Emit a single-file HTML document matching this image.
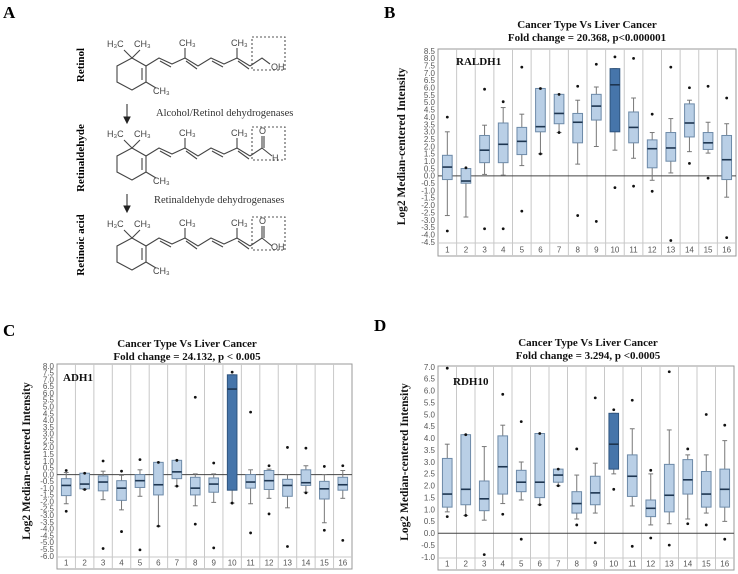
<!DOCTYPE html>
<html><head><meta charset="utf-8"><style>
body{margin:0;background:#fff;}
svg{display:block;}
.lbl{font-family:"Liberation Serif",serif;font-weight:bold;}
.chem{font-family:"Liberation Sans",sans-serif;font-size:9px;fill:#444;}
</style></head><body>
<svg id="fig" width="738" height="574" viewBox="0 0 738 574" xmlns="http://www.w3.org/2000/svg">
<g>
<text class="lbl" x="3" y="18" font-size="17">A</text>
<g id="mols" stroke="#444" stroke-width="1.1" fill="none"></g>
<text class="lbl" transform="translate(84,65) rotate(-90)" text-anchor="middle" font-size="11">Retinol</text>
<text class="lbl" transform="translate(84,158) rotate(-90)" text-anchor="middle" font-size="11">Retinaldehyde</text>
<text class="lbl" transform="translate(84,245) rotate(-90)" text-anchor="middle" font-size="11">Retinoic acid</text>
<g stroke="#222" stroke-width="1">
<line x1="127" y1="104" x2="127" y2="121"/><path d="M124,117 L127,123 L130,117 Z" fill="#222"/>
<line x1="127" y1="194" x2="127" y2="210"/><path d="M124,206 L127,212 L130,206 Z" fill="#222"/>
</g>
<text x="156" y="116" font-family="Liberation Serif,serif" font-size="10.5" fill="#333">Alcohol/Retinol dehydrogenases</text>
<text x="154" y="203" font-family="Liberation Serif,serif" font-size="10.5" fill="#333">Retinaldehyde dehydrogenases</text>
</g>
<g id="chartB"></g>
<g id="chartC"></g>
<g id="chartD"></g>
</svg>
<script>
const categories=["1","2","3","4","5","6","7","8","9","10","11","12","13","14","15","16"];
// RALDH1
const raldh1Lo=[-2.7,-2.8,0.1,0.05,0.7,1.5,2.95,0.8,2.0,1.75,1.2,-0.3,0.2,1.65,1.55,-1.45];
const raldh1Q1=[-0.25,-0.5,0.9,0.9,1.45,3.0,3.55,2.25,3.8,3.0,2.25,0.55,1.0,2.65,1.8,-0.25];
const raldh1Med=[0.6,-0.35,1.75,2.15,2.35,3.35,4.25,3.65,4.75,6.2,3.3,1.85,1.9,3.6,2.25,1.1];
const raldh1Q3=[1.4,0.5,2.75,3.6,3.3,5.95,5.55,4.25,5.55,7.3,4.35,2.45,2.95,4.9,2.95,2.75];
const raldh1Hi=[3.0,0.5,3.45,4.65,4.2,5.95,5.55,5.15,6.05,7.3,5.3,2.95,3.9,5.15,3.65,3.55];
const raldh1Out=[[4.0,-3.75],[0.55],[5.9,-3.6],[5.05,-3.6],[7.4,-2.4],[5.95,1.5],[5.55,2.95],[6.1,-2.7],[7.6,-3.1],[8.1,-0.8],[8.0,-0.7],[4.2,-1.05],[7.4,-4.4],[6.0,0.85],[6.1,-0.15],[5.3,-4.2]];
// ADH1
const adh1Lo=[-2.15,-1.1,-1.85,-2.6,-1.6,-3.8,-0.85,-2.3,-2.05,-2.1,-2.15,-1.75,-2.45,-1.3,-3.55,-1.75];
const adh1Q1=[-1.55,-1.05,-1.2,-1.9,-0.95,-1.5,-0.3,-1.5,-1.3,-1.15,-1.0,-1.1,-1.6,-0.8,-1.8,-1.15];
const adh1Med=[-0.8,-0.7,-0.55,-1.0,-0.45,-0.75,0.2,-1.0,-0.7,6.3,-0.55,-0.45,-0.8,-0.6,-1.05,-0.75];
const adh1Q3=[-0.3,0.1,-0.1,-0.45,0.0,0.9,1.05,-0.2,-0.25,7.35,0.0,0.3,-0.35,0.35,-0.5,-0.2];
const adh1Hi=[0.15,0.1,0.25,-0.05,0.35,0.9,1.05,0.05,0.05,7.35,0.35,0.4,0.0,0.65,0.0,0.3];
const adh1Out=[[0.3,-2.7],[0.1,-1.1],[1.0,-5.45],[0.25,-4.2],[1.1,-5.55],[0.9,-3.8],[1.05,-0.85],[5.7,-3.65],[0.85,-5.4],[7.55,-2.1],[4.6,-4.3],[0.65,-2.9],[2.0,-5.3],[1.95,-1.35],[0.6,-4.1],[0.65,-4.85]];
// RDH10
const rdh10Lo=[0.9,0.75,0.55,1.25,1.4,1.2,2.0,0.6,0.85,2.5,1.15,0.35,0.4,0.6,0.85,0.5];
const rdh10Q1=[1.1,1.2,0.95,1.65,1.75,1.5,2.15,0.85,1.2,2.7,1.55,0.7,0.9,1.65,1.1,1.1];
const rdh10Med=[1.65,1.85,1.45,2.8,2.15,2.15,2.45,1.25,1.7,3.75,2.4,1.05,1.6,2.25,1.65,1.85];
const rdh10Q3=[3.15,4.15,2.2,4.1,2.65,4.2,2.7,1.75,2.4,5.05,3.3,1.4,2.9,3.1,2.6,2.7];
const rdh10Hi=[3.75,4.15,3.65,4.55,3.0,4.2,2.7,2.45,2.95,5.05,4.4,2.5,4.35,3.3,3.3,3.9];
const rdh10Out=[[6.95,0.7],[4.15,0.75],[-0.9],[5.85,0.8],[4.7,-0.25],[4.2,1.2],[2.7,2.0],[3.55,0.35],[5.7,-0.4],[5.2,1.85],[5.6,-0.55],[2.65,-0.2],[6.8,-0.5],[3.55,0.4],[5.0,0.35],[4.55,-0.25]];

const NS="http://www.w3.org/2000/svg";
function mk(parent,tag,attrs){const e=document.createElementNS(NS,tag);for(const k in attrs)e.setAttribute(k,attrs[k]);parent.appendChild(e);return e;}

function drawChart(g,o){
  const yScale=v=>o.yTop+(o.max-v)/(o.max-o.min)*(o.yBot-o.yTop);
  const colW=(o.right-o.left)/categories.length;
  const xC=i=>o.left+colW*(i+0.5);
  const fr=mk(g,'rect',{x:o.left,y:o.frameTop,width:o.right-o.left,height:o.bottom-o.frameTop,fill:'#fff',stroke:'#999','stroke-width':1});
  
  
  for(let i=1;i<categories.length;i++){
    const l=mk(g,'line',{x1:o.left+colW*i,x2:o.left+colW*i,y1:o.frameTop,y2:o.bottom,stroke:'#c8c8c8','stroke-width':1});
    
    
  }
  const bl=mk(g,'line',{x1:o.left,x2:o.right,y1:o.yBot+1,y2:o.yBot+1,stroke:'#c8c8c8'});
  
  
  // y ticks
  for(let v=o.min;v<=o.max+1e-9;v+=0.5){
    const t=mk(g,'text',{x:o.left-3,y:yScale(v)+2.8,'text-anchor':'end','font-family':'Liberation Sans,sans-serif','font-size':'8',fill:'#555'});
    t.textContent=(Math.abs(v)<1e-9?0:v).toFixed(1);
    
    
  }
  const z=mk(g,'line',{x1:o.left,x2:o.right,y1:yScale(0),y2:yScale(0),stroke:'#444','stroke-width':1});
  
  
  const bw=colW*0.52;
  categories.forEach((c,i)=>{
    const x=xC(i);
    const grp=mk(g,'g',{});
    
    
    const sc='#6d8aa8';
    mk(grp,'line',{x1:x,x2:x,y1:yScale(o.hi[i]),y2:yScale(o.q3[i]),stroke:'#777'});
    mk(grp,'line',{x1:x,x2:x,y1:yScale(o.q1[i]),y2:yScale(o.lo[i]),stroke:'#777'});
    mk(grp,'line',{x1:x-bw/4,x2:x+bw/4,y1:yScale(o.hi[i]),y2:yScale(o.hi[i]),stroke:'#777'});
    mk(grp,'line',{x1:x-bw/4,x2:x+bw/4,y1:yScale(o.lo[i]),y2:yScale(o.lo[i]),stroke:'#777'});
    const dark=(i===9);
    mk(grp,'rect',{x:x-bw/2,y:yScale(o.q3[i]),width:bw,height:yScale(o.q1[i])-yScale(o.q3[i]),fill:dark?'#4675aa':'#b9cfe6',stroke:dark?'#2f557f':sc,'stroke-width':1});
    mk(grp,'line',{x1:x-bw/2,x2:x+bw/2,y1:yScale(o.med[i]),y2:yScale(o.med[i]),stroke:'#1d3550','stroke-width':1.6});
    o.out[i].forEach(v=>{
      const d=mk(grp,'circle',{cx:x,cy:yScale(v),r:1.4,fill:'#111'});
      
      
    });
    const t=mk(g,'text',{x:x,y:o.bottom-3.5,'text-anchor':'middle','font-family':'Liberation Sans,sans-serif','font-size':'8',fill:'#555'});
    t.textContent=c;
    
    
  });
  const gl=mk(g,'text',{x:o.geneX,y:o.geneY,'font-family':'Liberation Serif,serif','font-weight':'bold','font-size':'11',fill:'#111'});
  gl.textContent=o.gene;
  
  
  const t1=mk(g,'text',{x:o.titleX,y:o.titleY,'text-anchor':'middle','font-family':'Liberation Serif,serif','font-weight':'bold','font-size':'11',fill:'#111'});
  t1.textContent='Cancer Type Vs Liver Cancer';
  
  
  const t2=mk(g,'text',{x:o.titleX,y:o.titleY+13,'text-anchor':'middle','font-family':'Liberation Serif,serif','font-weight':'bold','font-size':'11',fill:'#111'});
  t2.textContent=o.sub;
  
  
  const yl=mk(g,'text',{transform:'translate('+o.ylX+','+((o.yTop+o.yBot)/2)+') rotate(-90)','text-anchor':'middle','font-family':'Liberation Serif,serif','font-weight':'bold','font-size':'11.5',fill:'#111'});
  yl.textContent='Log2 Median-centered Intensity';
  
  
  const pl=mk(g,'text',{x:o.letX,y:o.letY,'font-family':'Liberation Serif,serif','font-weight':'bold','font-size':'17',fill:'#000'});
  pl.textContent=o.letter;
  
  
}
drawChart(document.getElementById('chartB'),{left:438,right:736,frameTop:49,yTop:51,yBot:242,bottom:256,min:-4.5,max:8.5,lo:raldh1Lo,q1:raldh1Q1,med:raldh1Med,q3:raldh1Q3,hi:raldh1Hi,out:raldh1Out,gene:'RALDH1',geneX:456,geneY:65,titleX:587,titleY:28,sub:'Fold change = 20.368, p<0.000001',ylX:405,letter:'B',letX:384,letY:18});
drawChart(document.getElementById('chartC'),{left:57,right:352,frameTop:364,yTop:366,yBot:556,bottom:569,min:-6,max:8,lo:adh1Lo,q1:adh1Q1,med:adh1Med,q3:adh1Q3,hi:adh1Hi,out:adh1Out,gene:'ADH1',geneX:63,geneY:381,titleX:187,titleY:347,sub:'Fold change = 24.132, p < 0.005',ylX:30,letter:'C',letX:3,letY:336});
drawChart(document.getElementById('chartD'),{left:438,right:734,frameTop:366,yTop:367,yBot:557,bottom:570,min:-1,max:7,lo:rdh10Lo,q1:rdh10Q1,med:rdh10Med,q3:rdh10Q3,hi:rdh10Hi,out:rdh10Out,gene:'RDH10',geneX:453,geneY:385,titleX:588,titleY:346,sub:'Fold change = 3.294, p <0.0005',ylX:408,letter:'D',letX:374,letY:331});

// Panel A molecules
const mols=document.getElementById('mols');
const svg=document.getElementById('fig');
function molecule(dy,kind){
  const p=(x,y)=>x+','+(y+dy);
  // ring
  mk(mols,'polyline',{points:[p(132,58),p(146,66),p(146,82),p(132,90),p(117,82),p(117,66),p(132,58)].join(' ')});
  mk(mols,'line',{x1:142,y1:68+dy,x2:142,y2:80+dy});
  mk(mols,'line',{x1:146,y1:82+dy,x2:156,y2:88+dy});
  mk(mols,'line',{x1:132,y1:58+dy,x2:124,y2:50+dy});
  mk(mols,'line',{x1:132,y1:58+dy,x2:140,y2:50+dy});
  // chain
  const xs=[146,159,172,185,198,211,224,237,250];
  const ys=[66,58,64,58,66,58,64,58,66];
  mk(mols,'polyline',{points:xs.map((x,i)=>p(x,ys[i])).join(' ')});
  mk(mols,'line',{x1:160,y1:61+dy,x2:171,y2:67+dy});
  mk(mols,'line',{x1:186,y1:61+dy,x2:197,y2:69+dy});
  mk(mols,'line',{x1:212,y1:61+dy,x2:223,y2:67+dy});
  mk(mols,'line',{x1:238,y1:61+dy,x2:249,y2:69+dy});
  mk(mols,'line',{x1:185,y1:58+dy,x2:185,y2:48+dy});
  mk(mols,'line',{x1:237,y1:58+dy,x2:237,y2:48+dy});
  const tx=(x,y,s)=>{const t=mk(svg,'text',{x:x,y:y+dy,class:'chem'});t.textContent=s;};
  tx(107,47,'H₃C');tx(134,47,'CH₃');tx(153,94,'CH₃');tx(179,46,'CH₃');tx(231,46,'CH₃');
  mk(mols,'rect',{x:252,y:37+dy,width:33,height:33,'stroke-dasharray':'2,2',stroke:'#555'});
  if(kind==='oh'){mk(mols,'polyline',{points:[p(250,66),p(262,58),p(270,64)].join(' ')});tx(271,70,'OH');}
  else {mk(mols,'polyline',{points:[p(250,66),p(262,58),p(272,66)].join(' ')});mk(mols,'line',{x1:262,y1:58+dy,x2:262,y2:46+dy});mk(mols,'line',{x1:264,y1:58+dy,x2:264,y2:46+dy});tx(259,44,'O');tx(kind==='h'?272:271,kind==='h'?71:70,kind==='h'?'H':'OH');}
}
molecule(0,'oh');molecule(90,'h');molecule(180,'cooh');
</script>
</body></html>
